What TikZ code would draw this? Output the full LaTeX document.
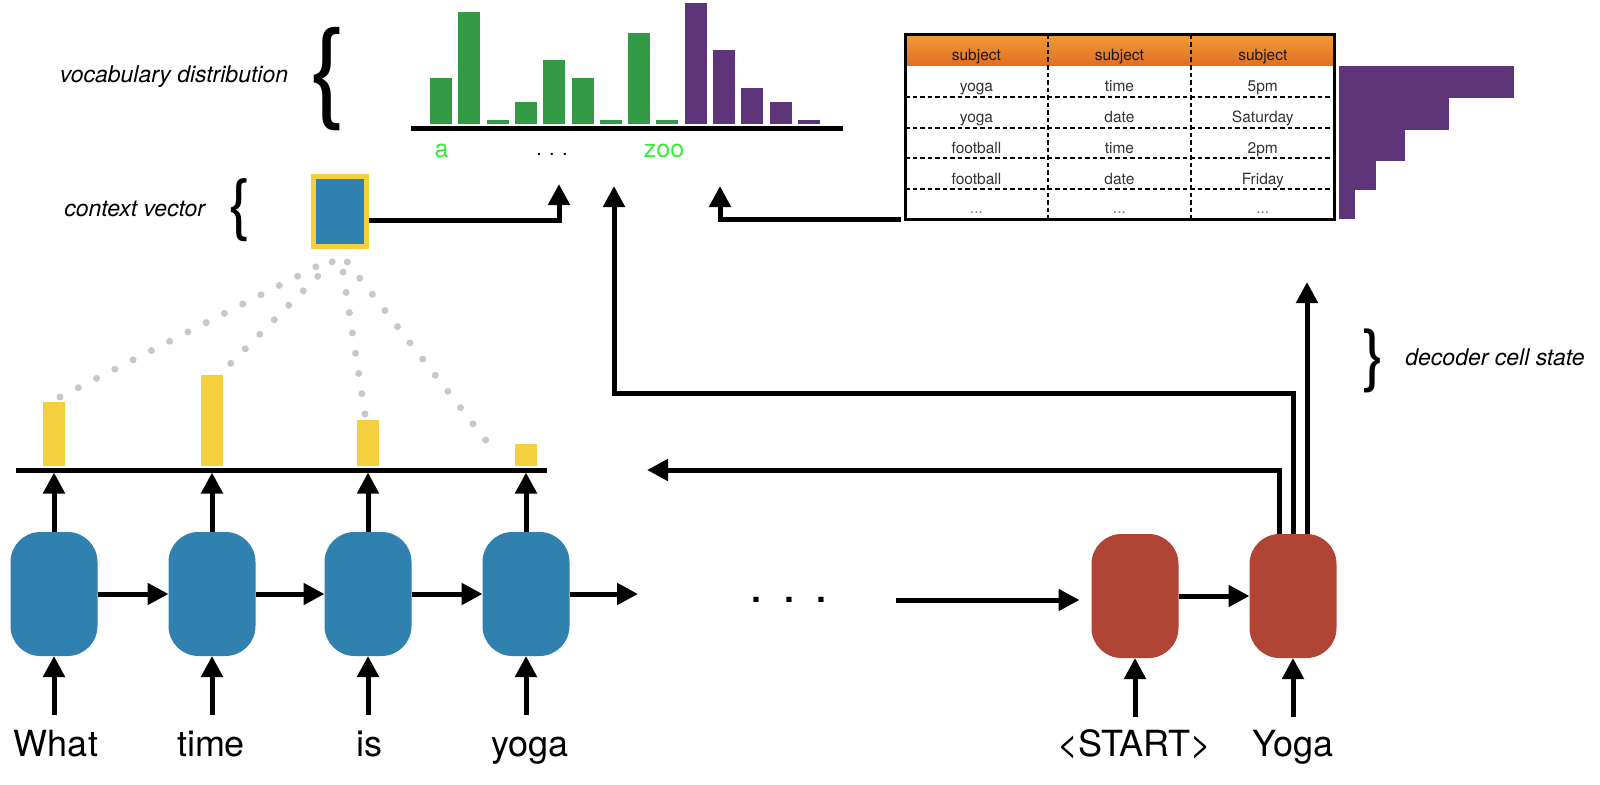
\documentclass[tikz,border=0pt]{standalone}
\usepackage{fontspec}
\setmainfont{TeX Gyre Heros}
\usetikzlibrary{arrows.meta,calc,positioning}

\definecolor{encblue}{HTML}{3080B0}
\definecolor{decred}{HTML}{B04535}
\definecolor{attyellow}{HTML}{F4D03F}
\definecolor{vocgreen}{HTML}{349A45}
\definecolor{copypurple}{HTML}{5E3579}
\definecolor{labgreen}{HTML}{33EE33}
\definecolor{dotgray}{HTML}{C8C8C8}
\definecolor{headtop}{HTML}{F29B34}
\definecolor{headbot}{HTML}{DF6E27}

\tikzset{
  rnncell/.style={rounded corners=30pt, minimum width=87pt, minimum height=124pt, inner sep=0pt, outer sep=0pt},
  enc/.style={rnncell, fill=encblue},
  dec/.style={rnncell, fill=decred},
  conn/.style={line width=5pt, -{Triangle[length=21pt,width=21pt]}},
  wire/.style={line width=5pt},
  word/.style={font=\fontsize{36}{40}\selectfont, anchor=base, inner sep=0pt, text height=26pt, text depth=8pt},
  sidenote/.style={font=\fontsize{23}{28}\selectfont\itshape, anchor=base, inner sep=0pt},
  bigbrace/.style={inner sep=0pt},
  attbar/.style={fill=attyellow, minimum width=22pt, inner sep=0pt, outer sep=0pt, anchor=south},
  attdots/.style={dotgray, line width=7pt, line cap=round, dash pattern=on 0pt off 20.5pt},
  tabdash/.style={line width=2pt, dash pattern=on 4.5pt off 3pt},
  tabtext/.style={font=\fontsize{15.5}{18}\selectfont, text=black!80, anchor=base, inner sep=0pt},
  voclabel/.style={font=\fontsize{25}{30}\selectfont, text=labgreen, anchor=base, inner sep=0pt},
}

\begin{document}
\begin{tikzpicture}[x=1pt, y=-1pt]
\useasboundingbox (0,0) rectangle (1600,784);

% encoder
\foreach \x [count=\i] in {54,212,368,526}
  \node[enc] (enc\i) at (\x,594) {};
\draw[conn] (enc1) -- (enc2);
\draw[conn] (enc2) -- (enc3);
\draw[conn] (enc3) -- (enc4);
\coordinate (encout) at (638,594);
\draw[conn] (enc4) -- (encout);

\node[font=\fontsize{50}{60}\selectfont, inner sep=0pt] (gap) at (789,600) {. . .};

% decoder
\node[dec] (dstart) at (1135,596) {};
\node[dec] (dyoga) at (1293,596) {};
\coordinate (decin) at (896,600);
\draw[conn, shorten >=12pt] (decin) -- (decin -| dstart.west);
\draw[conn] (dstart) -- (dyoga);

% input words
\foreach \x/\w [count=\i] in {56/What,211/time,369/is,530/yoga,1134.5/<START>,1293/Yoga}
  \node[word] (w\i) at (\x,756) {\w};
\foreach \i in {1,...,4}
  \draw[conn] (enc\i |- w\i.north) ++(0,-15) -- (enc\i.south);
\draw[conn] (dstart |- w5.north) ++(0,-13) -- (dstart.south);
\draw[conn] (dyoga |- w6.north) ++(0,-13) -- (dyoga.south);

% attention weights
\coordinate (barl) at (16,470);
\coordinate (barr) at (547,470);
\draw[wire] (barl) -- (barr);
\foreach \i in {1,...,4}
  \draw[conn] (enc\i.north) -- (enc\i.north |- 0,472.5);
\foreach \x/\h [count=\i] in {54/64pt,212/91pt,368/46pt,526/22pt}
  \node[attbar, minimum height=\h] (att\i) at (\x,466) {};

% context vector
\node[fill=encblue, draw=attyellow, line width=4.7pt, minimum width=53.3pt,
  minimum height=70.3pt, inner sep=0pt] (ctx) at (340,211.5) {};
\draw[attdots] ($(att1.north)+(6,-5)$) -- ($(ctx.south)+(-23,17.3)$);
\draw[attdots] ($(att2.north)+(18.8,-11.7)$) -- ($(ctx.south)+(-7.3,12.3)$);
\draw[attdots] ($(att3.north)+(-3,-6)$) -- ($(ctx.south)+(3,22.7)$);
\draw[attdots] ($(att4.north)+(-40.4,-4)$) -- ($(ctx.south)+(6.7,12.3)$);

% vocabulary distribution
\foreach \h [count=\i] in {78,12,120,102,60,78,120,33,120}
  \fill[vocgreen] ({430+28.3*(\i-1)},124) rectangle ++(22,{\h-124});
\foreach \h [count=\i from 10] in {3,50,88,102,120}
  \fill[copypurple] ({430+28.3*(\i-1)},124) rectangle ++(22,{\h-124});
\coordinate (axl) at (411,128.3);
\coordinate (axr) at (843,128.3);
\draw[wire] (axl) -- (axr);
\node[voclabel] (lbla) at (441.5,157) {a};
\node[anchor=base, inner sep=0pt, font=\fontsize{20}{24}\selectfont] (lbldots) at (552,155) {. . .};
\node[voclabel] (lblzoo) at (664,157) {zoo};

% knowledge base table
\shade[top color=headtop, bottom color=headbot] (905,35) rectangle (1334.5,65.7);
\foreach \y in {96.7,127.7,158.3,189}
  \draw[tabdash] (905,\y) -- (1334.5,\y);
\foreach \x in {1047.7,1191}
  \draw[tabdash] (\x,35) -- (\x,219.3);
\node[draw, line width=3pt, minimum width=429.5pt, minimum height=184.3pt,
  anchor=north west, inner sep=0pt, outer sep=0pt] (tab) at (905,35) {};
\foreach \x [count=\j] in {976.4,1119.4,1262.8}
  \node[tabtext, text=black!90] (t1-\j) at (\x,60) {subject};
\foreach \r/\a/\b/\c [count=\i from 2] in {91.7/yoga/time/5pm,
    122.3/yoga/date/Saturday, 153.3/football/time/2pm,
    184/football/date/Friday}{
  \node[tabtext] (t\i-1) at (976.4,\r) {\a};
  \node[tabtext] (t\i-2) at (1119.4,\r) {\b};
  \node[tabtext] (t\i-3) at (1262.8,\r) {\c};
}
\foreach \x [count=\j] in {976.4,1119.4,1262.8}
  \node[tabtext, text=black!55] (t6-\j) at (\x,213.5) {...};

% copy distribution over rows
\foreach \ya/\yb/\xr in {66/97.7/1514, 97.7/130/1449, 130/160.7/1404.5, 160.7/190/1376, 190/219/1354.7}
  \fill[copypurple] (1339,\ya) rectangle (\xr,\yb);

% connections into the output layer
\coordinate (vocl) at (559,184);
\coordinate (vocm) at (614,186);
\coordinate (vocr) at (720,186);
\coordinate (attin) at (647,470);
\coordinate (cellout) at (1307,282);
\draw[conn] (ctx.east |- 0,220) -| (vocl);
\draw[conn] ([xshift=-4pt]tab.south west) -| (vocr);
\draw[conn] (dyoga.north) |- (vocm |- 0,393) -- (vocm);
\draw[conn] ([xshift=-13.4pt]dyoga.north) |- (attin);
\draw[conn] ([xshift=14pt]dyoga.north) -- (cellout);

% side notes
\node[sidenote] (vocnote) at (174,82.7) {vocabulary distribution};
\node[bigbrace, font=\fontsize{110}{120}\selectfont] (vocbrace) at (328,79) {\{};
\node[sidenote] (ctxnote) at (134.7,216.7) {context vector};
\node[bigbrace, font=\fontsize{67}{72}\selectfont] (ctxbrace) at (240,210) {\{};
\node[sidenote] (decnote) at (1495,365) {decoder cell state};
\node[bigbrace, font=\fontsize{68}{72}\selectfont] (decbrace) at (1374,360.5) {\}};
\end{tikzpicture}
\end{document}
